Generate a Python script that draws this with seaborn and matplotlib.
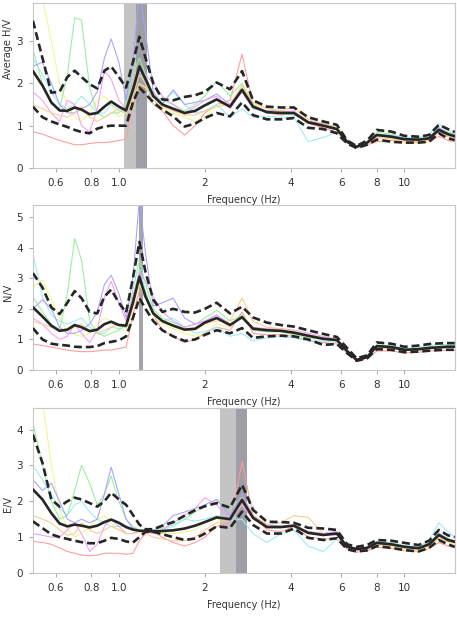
import matplotlib
matplotlib.use("Agg")
import matplotlib.pyplot as plt
import seaborn as sns
import pandas as pd
from matplotlib.ticker import FixedLocator, LogLocator, NullFormatter, MultipleLocator

# frequency grid (Hz) shared by all curves
freq = [0.50, 0.54, 0.58, 0.62, 0.66, 0.70, 0.74, 0.79, 0.84, 0.89, 0.94, 1.00, 1.06,
        1.12, 1.18, 1.24, 1.32, 1.42, 1.55, 1.70, 1.85, 2.0, 2.2, 2.45, 2.7, 2.95, 3.3,
        3.7, 4.1, 4.6, 5.2, 5.8, 6.3, 6.8, 7.4, 8.0, 9.0, 10.0, 11.2, 12.2, 13.2, 14.2, 15.0]

# --- Average H/V ---
hv_red = [0.86, 0.8, 0.72, 0.65, 0.6, 0.55, 0.55, 0.58, 0.6, 0.6, 0.62, 0.65, 0.68, 1.5, 1.9,
          1.95, 1.5, 1.35, 1.0, 0.78, 1.0, 1.3, 1.5, 1.6, 2.69, 1.5, 1.3, 1.25, 1.3, 1.05, 0.95,
          0.85, 0.6, 0.48, 0.55, 0.62, 0.65, 0.6, 0.6, 0.62, 0.75, 0.65, 0.62]
hv_yellow = [4.5, 4.0, 3.0, 2.0, 1.5, 1.2, 1.1, 1.3, 1.6, 1.7, 1.5, 1.2, 1.3, 1.6, 2.0, 1.9, 1.6,
             1.4, 1.3, 1.2, 1.1, 1.2, 1.5, 1.5, 1.9, 1.5, 1.4, 1.35, 1.45, 1.1, 1.0, 1.02, 0.62,
             0.5, 0.58, 0.72, 0.68, 0.6, 0.58, 0.64, 0.85, 0.76, 0.7]
hv_green = [2.8, 2.0, 1.5, 1.4, 2.2, 3.55, 3.5, 1.9, 1.3, 1.2, 1.3, 1.3, 1.5, 2.2, 2.6, 2.2, 1.7,
            1.6, 1.5, 1.35, 1.5, 1.7, 2.05, 1.7, 2.0, 1.5, 1.3, 1.28, 1.25, 1.1, 1.0, 0.95, 0.6,
            0.5, 0.62, 0.85, 0.8, 0.7, 0.7, 0.72, 0.95, 0.85, 0.8]
hv_cyan = [2.6, 2.2, 1.8, 1.5, 1.4, 1.5, 1.7, 1.5, 1.3, 1.3, 1.5, 1.35, 1.3, 1.9, 2.3, 2.0, 1.5,
           1.55, 1.8, 1.5, 1.3, 1.35, 1.5, 1.2, 1.4, 1.2, 1.22, 1.2, 1.2, 0.62, 0.72, 0.85, 0.6,
           0.5, 0.62, 0.8, 0.78, 0.72, 0.72, 0.8, 1.05, 0.9, 0.85]
hv_blue = [2.4, 2.5, 2.0, 1.5, 1.3, 1.3, 1.4, 1.5, 1.8, 2.6, 3.05, 2.5, 1.6, 2.5, 4.2, 3.2, 1.8,
           1.5, 1.85, 1.5, 1.55, 1.6, 1.75, 1.5, 1.8, 1.4, 1.35, 1.35, 1.3, 1.1, 1.05, 0.95, 0.62,
           0.5, 0.6, 0.78, 0.75, 0.7, 0.68, 0.72, 0.95, 0.82, 0.78]
hv_magenta = [1.8, 1.6, 1.3, 1.1, 1.6, 1.5, 1.0, 0.85, 1.4, 2.3, 2.1, 1.6, 1.4, 1.8, 2.3, 2.2, 2.0,
              1.7, 1.5, 1.3, 1.45, 1.6, 1.7, 1.4, 1.8, 1.45, 1.3, 1.32, 1.35, 1.1, 1.0, 0.9, 0.6,
              0.5, 0.58, 0.76, 0.72, 0.66, 0.66, 0.68, 0.85, 0.78, 0.72]
hv_orange = [1.5, 1.4, 1.3, 1.25, 1.2, 1.3, 1.45, 1.2, 1.1, 1.2, 1.3, 1.4, 1.3, 1.7, 2.2, 2.0, 1.6,
             1.45, 1.35, 1.25, 1.25, 1.35, 1.45, 1.5, 1.95, 1.55, 1.4, 1.35, 1.45, 1.15, 1.05,
             0.95, 0.62, 0.5, 0.55, 0.72, 0.7, 0.64, 0.62, 0.66, 0.82, 0.74, 0.7]
hv_mean = [2.29, 1.95, 1.55, 1.36, 1.35, 1.43, 1.38, 1.27, 1.30, 1.45, 1.57, 1.45, 1.36, 1.85,
           2.4, 2.1, 1.7, 1.5, 1.40, 1.30, 1.35, 1.48, 1.62, 1.45, 1.85, 1.45, 1.32, 1.30, 1.30,
           1.08, 1.0, 0.92, 0.62, 0.50, 0.60, 0.78, 0.74, 0.68, 0.67, 0.70, 0.90, 0.80, 0.75]
hv_upper = [3.48, 2.6, 1.78, 1.8, 2.15, 2.3, 2.15, 1.98, 1.88, 2.3, 2.4, 2.15, 1.9, 2.5, 3.1, 2.6,
            2.0, 1.62, 1.6, 1.68, 1.72, 1.80, 2.02, 1.86, 2.29, 1.6, 1.45, 1.43, 1.43, 1.2, 1.1,
            1.02, 0.65, 0.52, 0.65, 0.90, 0.86, 0.76, 0.74, 0.78, 1.02, 0.92, 0.85]
hv_lower = [1.45, 1.2, 1.1, 1.03, 0.97, 0.9, 0.85, 0.82, 0.93, 0.98, 1.0, 1.0, 1.0, 1.55, 1.9,
            1.75, 1.55, 1.38, 1.22, 0.98, 1.05, 1.18, 1.30, 1.22, 1.55, 1.25, 1.15, 1.15, 1.18,
            0.95, 0.92, 0.82, 0.58, 0.47, 0.55, 0.67, 0.62, 0.6, 0.6, 0.62, 0.82, 0.7, 0.66]

# --- N/V ---
nv_red = [0.85, 0.8, 0.75, 0.7, 0.65, 0.62, 0.6, 0.6, 0.62, 0.65, 0.65, 0.7, 0.75, 1.8, 2.6, 2.4,
          1.8, 1.3, 1.1, 0.9, 1.0, 1.2, 1.4, 1.3, 1.9, 1.2, 1.15, 1.15, 1.1, 0.95, 0.9, 0.85,
          0.55, 0.3, 0.38, 0.62, 0.62, 0.56, 0.58, 0.62, 0.64, 0.64, 0.64]
nv_yellow = [2.7, 2.95, 2.3, 1.7, 1.3, 1.15, 1.1, 1.2, 1.5, 1.7, 1.6, 1.3, 1.3, 2.0, 2.8, 2.4, 1.8,
             1.5, 1.35, 1.2, 1.1, 1.2, 1.5, 1.4, 1.8, 1.4, 1.3, 1.3, 1.2, 1.1, 1.05, 1.05, 0.6,
             0.33, 0.42, 0.72, 0.7, 0.62, 0.64, 0.7, 0.72, 0.74, 0.74]
nv_green = [2.4, 1.9, 1.5, 1.3, 2.5, 4.3, 3.6, 1.6, 1.2, 1.1, 1.2, 1.3, 1.5, 2.6, 3.6, 2.8, 2.0,
            1.7, 1.55, 1.4, 1.5, 1.7, 1.95, 1.6, 1.8, 1.3, 1.25, 1.25, 1.15, 1.05, 1.0, 0.95, 0.6,
            0.32, 0.42, 0.82, 0.78, 0.7, 0.72, 0.76, 0.78, 0.8, 0.8]
nv_cyan = [3.8, 2.4, 1.8, 1.6, 1.5, 1.6, 1.7, 1.4, 1.2, 1.2, 1.4, 1.35, 1.4, 2.3, 3.3, 2.6, 1.8,
           1.6, 1.7, 1.4, 1.2, 1.25, 1.4, 1.1, 1.2, 0.95, 1.05, 1.1, 1.05, 0.95, 0.95, 0.9, 0.6,
           0.33, 0.42, 0.8, 0.78, 0.7, 0.74, 0.8, 0.82, 0.84, 0.84]
nv_blue = [2.0, 2.3, 2.0, 1.4, 1.2, 1.2, 1.3, 1.5, 1.9, 2.8, 3.1, 2.5, 1.7, 3.0, 5.6, 3.8, 2.1,
           2.2, 2.35, 1.7, 1.5, 1.6, 1.8, 1.5, 1.7, 1.35, 1.3, 1.3, 1.25, 1.15, 1.05, 1.0, 0.62,
           0.33, 0.42, 0.78, 0.75, 0.66, 0.68, 0.72, 0.74, 0.76, 0.76]
nv_magenta = [1.7, 1.5, 1.2, 1.0, 1.1, 1.5, 1.2, 0.9, 1.3, 2.4, 2.9, 2.2, 1.6, 2.4, 3.2, 2.9, 2.4,
              1.9, 1.6, 1.4, 1.5, 1.6, 1.8, 1.5, 1.7, 1.4, 1.35, 1.35, 1.3, 1.2, 1.1, 1.0, 0.6,
              0.33, 0.42, 0.75, 0.72, 0.64, 0.66, 0.7, 0.72, 0.74, 0.74]
nv_orange = [1.6, 1.5, 1.4, 1.3, 1.3, 1.4, 1.5, 1.3, 1.2, 1.3, 1.4, 1.5, 1.5, 2.2, 3.0, 2.5, 1.9,
             1.6, 1.45, 1.3, 1.3, 1.5, 1.6, 1.6, 2.35, 1.6, 1.4, 1.35, 1.3, 1.15, 1.05, 1.0, 0.62,
             0.33, 0.42, 0.74, 0.72, 0.64, 0.66, 0.7, 0.72, 0.74, 0.74]
nv_mean = [2.05, 1.75, 1.45, 1.28, 1.32, 1.47, 1.40, 1.27, 1.32, 1.50, 1.58, 1.47, 1.45, 2.2,
           3.05, 2.4, 1.85, 1.6, 1.45, 1.32, 1.35, 1.55, 1.70, 1.47, 1.73, 1.35, 1.3, 1.28, 1.22,
           1.12, 1.02, 0.98, 0.62, 0.33, 0.42, 0.78, 0.75, 0.66, 0.68, 0.72, 0.74, 0.76, 0.76]
nv_upper = [3.17, 2.7, 2.05, 1.83, 2.2, 2.58, 2.35, 1.9, 1.85, 2.4, 2.63, 2.2, 1.88, 3.0, 4.19,
            3.2, 2.3, 1.9, 2.0, 1.9, 1.88, 2.0, 2.2, 1.85, 2.07, 1.72, 1.55, 1.47, 1.42, 1.3, 1.18,
            1.08, 0.72, 0.38, 0.48, 0.9, 0.86, 0.76, 0.8, 0.85, 0.87, 0.88, 0.88]
nv_lower = [1.37, 1.0, 0.86, 0.82, 0.8, 0.76, 0.75, 0.75, 0.78, 0.88, 0.92, 0.97, 1.1, 1.7, 2.35,
            2.0, 1.6, 1.3, 1.1, 0.95, 1.0, 1.15, 1.3, 1.2, 1.37, 1.05, 1.1, 1.12, 1.1, 1.0, 0.82,
            0.85, 0.55, 0.3, 0.38, 0.68, 0.66, 0.58, 0.6, 0.63, 0.65, 0.66, 0.66]

# --- E/V ---
ev_red = [0.88, 0.85, 0.8, 0.7, 0.6, 0.55, 0.5, 0.48, 0.5, 0.55, 0.55, 0.55, 0.52, 0.55, 0.9, 1.1,
          1.15, 1.0, 0.85, 0.75, 0.85, 1.0, 1.3, 1.4, 3.1, 1.6, 1.2, 1.15, 1.3, 1.0, 0.95, 0.95,
          0.66, 0.58, 0.62, 0.72, 0.68, 0.62, 0.6, 0.68, 0.85, 0.75, 0.7]
ev_yellow = [5.5, 4.8, 3.0, 1.8, 1.2, 1.0, 1.1, 1.3, 1.5, 1.6, 1.4, 1.2, 1.1, 1.1, 1.2, 1.2, 1.15,
             1.1, 1.1, 1.15, 1.2, 1.4, 1.5, 1.5, 1.9, 1.5, 1.3, 1.3, 1.35, 1.1, 1.05, 1.1, 0.72,
             0.66, 0.68, 0.78, 0.72, 0.64, 0.62, 0.72, 0.95, 0.85, 0.8]
ev_green = [4.2, 3.0, 2.0, 1.5, 1.6, 2.3, 3.0, 2.5, 1.9, 2.2, 2.7, 2.0, 1.5, 1.3, 1.2, 1.2, 1.2,
            1.25, 1.35, 1.5, 1.7, 1.9, 2.05, 1.8, 2.1, 1.6, 1.3, 1.3, 1.3, 1.1, 1.05, 1.1, 0.73,
            0.67, 0.72, 0.88, 0.84, 0.76, 0.72, 0.84, 1.1, 0.96, 0.9]
ev_cyan = [3.0, 2.6, 2.2, 1.8, 1.6, 1.9, 2.0, 1.7, 1.5, 1.4, 1.3, 1.3, 1.3, 1.25, 1.2, 1.15, 1.15,
           1.2, 1.3, 1.5, 1.45, 1.5, 1.6, 1.45, 1.5, 1.1, 0.85, 1.1, 1.2, 0.75, 0.6, 0.95, 0.72,
           0.66, 0.72, 0.86, 0.84, 0.76, 0.74, 0.9, 1.4, 1.15, 1.0]
ev_blue = [2.6, 2.3, 2.5, 2.0, 1.5, 1.4, 1.5, 1.4, 1.5, 2.2, 2.95, 2.2, 1.5, 1.25, 1.15, 1.15, 1.2,
           1.3, 1.6, 1.7, 1.8, 1.9, 2.05, 1.6, 2.2, 1.6, 1.35, 1.3, 1.3, 1.15, 1.1, 1.15, 0.74,
           0.67, 0.7, 0.84, 0.8, 0.74, 0.7, 0.82, 1.1, 0.95, 0.9]
ev_magenta = [1.1, 1.05, 1.0, 1.0, 1.2, 1.4, 1.1, 0.6, 0.8, 1.3, 1.5, 1.3, 1.1, 1.1, 1.2, 1.15,
              1.1, 1.2, 1.4, 1.6, 1.8, 2.1, 1.9, 1.5, 1.9, 1.5, 1.3, 1.3, 1.35, 1.15, 1.1, 1.15,
              0.72, 0.62, 0.65, 0.8, 0.78, 0.72, 0.68, 0.78, 1.0, 0.9, 0.85]
ev_orange = [1.6, 1.5, 1.4, 1.2, 1.05, 1.1, 1.4, 1.2, 1.1, 1.2, 1.3, 1.2, 1.1, 1.1, 1.15, 1.1, 1.0,
             0.95, 0.9, 0.9, 1.0, 1.2, 1.4, 1.5, 2.1, 1.6, 1.35, 1.4, 1.6, 1.55, 1.1, 1.05, 0.72,
             0.66, 0.66, 0.8, 0.76, 0.7, 0.66, 0.76, 1.0, 0.88, 0.84]
ev_mean = [2.33, 2.05, 1.67, 1.38, 1.3, 1.35, 1.32, 1.27, 1.32, 1.42, 1.49, 1.4, 1.28, 1.21, 1.18,
           1.17, 1.16, 1.17, 1.19, 1.24, 1.32, 1.42, 1.55, 1.5, 2.04, 1.54, 1.28, 1.28, 1.32,
           1.12, 1.06, 1.1, 0.73, 0.67, 0.7, 0.84, 0.8, 0.73, 0.69, 0.8, 1.06, 0.92, 0.87]
ev_upper = [3.86, 3.07, 2.05, 1.85, 2.0, 2.1, 2.05, 1.95, 1.85, 2.0, 2.24, 2.05, 1.9, 1.62, 1.35,
            1.22, 1.22, 1.32, 1.42, 1.6, 1.75, 1.86, 1.95, 1.82, 2.46, 1.76, 1.43, 1.42, 1.4,
            1.26, 1.24, 1.2, 0.8, 0.73, 0.78, 0.92, 0.9, 0.84, 0.78, 0.9, 1.2, 1.05, 1.0]
ev_lower = [1.44, 1.25, 1.08, 1.0, 0.95, 0.9, 0.86, 0.83, 0.83, 0.9, 0.98, 0.95, 0.88, 0.85, 1.0,
            1.15, 1.15, 1.08, 1.0, 0.92, 0.96, 1.1, 1.3, 1.26, 1.71, 1.34, 1.1, 1.1, 1.24, 0.98,
            0.92, 0.97, 0.66, 0.6, 0.63, 0.75, 0.7, 0.64, 0.6, 0.7, 0.92, 0.8, 0.73]

# peak frequency bands (Hz): light part, dark part
hv_band_light = [1.04, 1.147]
hv_band_dark = [1.147, 1.25]
nv_band = [1.18, 1.215]
ev_band_light = [2.26, 2.57]
ev_band_dark = [2.57, 2.81]

window_names = ["red", "yellow", "green", "cyan", "blue", "magenta", "orange"]
palette = {"red": "#ff9a9a", "yellow": "#f4f48c", "green": "#98ef98", "cyan": "#9aebf4",
           "blue": "#a2a2ff", "magenta": "#f49cf4", "orange": "#ffc88c"}

panels = [
    ("Average H/V", [hv_red, hv_yellow, hv_green, hv_cyan, hv_blue, hv_magenta, hv_orange],
     hv_mean, hv_upper, hv_lower, 3.9, [0, 1, 2, 3], 0.72),
    ("N/V", [nv_red, nv_yellow, nv_green, nv_cyan, nv_blue, nv_magenta, nv_orange],
     nv_mean, nv_upper, nv_lower, 5.4, [0, 1, 2, 3, 4, 5], 0.47),
    ("E/V", [ev_red, ev_yellow, ev_green, ev_cyan, ev_blue, ev_magenta, ev_orange],
     ev_mean, ev_upper, ev_lower, 4.6, [0, 1, 2, 3, 4], 0.42),
]

sns.set_style("white")
plt.rcParams["font.family"] = ["DejaVu Sans"]
plt.rcParams["font.size"] = 7

fig = plt.figure(figsize=(4.57, 6.19), dpi=100)
bottoms = [0.7286, 0.4023, 0.0743]

for i, (ylab, wins, mean, upper, lower, ytop, yticks, ylab_y) in enumerate(panels):
    ax = fig.add_axes([0.072, bottoms[i], 0.923, 0.2666])

    # shaded peak bands
    if i == 0:
        ax.axvspan(*hv_band_light, color="#c4c4c4", lw=0, zorder=0)
        ax.axvspan(*hv_band_dark, color="#9e9ea6", lw=0, zorder=0)
    elif i == 1:
        ax.axvspan(*nv_band, color="#a4a4ac", lw=0, zorder=0)
    else:
        ax.axvspan(*ev_band_light, color="#c4c4c4", lw=0, zorder=0)
        ax.axvspan(*ev_band_dark, color="#9e9ea6", lw=0, zorder=0)

    win_df = pd.concat([pd.DataFrame({"freq": freq, "value": w, "window": n})
                        for n, w in zip(window_names, wins)], ignore_index=True)
    sns.lineplot(data=win_df, x="freq", y="value", hue="window", palette=palette,
                 estimator=None, lw=0.75, legend=False, ax=ax, zorder=2)

    stat_df = pd.concat([pd.DataFrame({"freq": freq, "value": v, "curve": c})
                         for c, v in [("mean", mean), ("upper", upper), ("lower", lower)]],
                        ignore_index=True)
    sns.lineplot(data=stat_df, x="freq", y="value", style="curve",
                 dashes={"mean": "", "upper": (3, 1.5), "lower": (3, 1.5)},
                 color="#262626", estimator=None, lw=1.9, legend=False, ax=ax, zorder=3)

    ax.set_xscale("log")
    ax.set_xlim(0.5, 15)
    ax.set_ylim(0, ytop)
    ax.xaxis.set_major_locator(FixedLocator([0.6, 0.8, 1.0, 2, 4, 6, 8, 10]))
    ax.set_xticklabels(["0.6", "0.8", "1.0", "2", "4", "6", "8", "10"])
    ax.xaxis.set_minor_locator(LogLocator(base=10, subs=[1, 2, 3, 4, 5, 6, 7, 8, 9]))
    ax.xaxis.set_minor_formatter(NullFormatter())
    ax.set_yticks(yticks)
    ax.yaxis.set_minor_locator(MultipleLocator(0.2))

    ax.tick_params(which="both", direction="out", color="#9a9a9a", width=0.6)
    ax.tick_params(which="major", length=3, labelsize=7.5, labelcolor="#333333", pad=4)
    ax.tick_params(which="minor", length=1.8)
    ax.tick_params(axis="x", bottom=True)
    ax.tick_params(axis="y", left=True)
    for s in ax.spines.values():
        s.set_color("#c8c8c8")
        s.set_linewidth(0.8)

    ax.set_xlabel("Frequency (Hz)", fontsize=7, color="#333333", labelpad=5)
    ax.set_ylabel(ylab, fontsize=7, color="#333333")
    ax.yaxis.set_label_coords(-0.048, ylab_y)

fig.savefig("out.png", dpi=100)
